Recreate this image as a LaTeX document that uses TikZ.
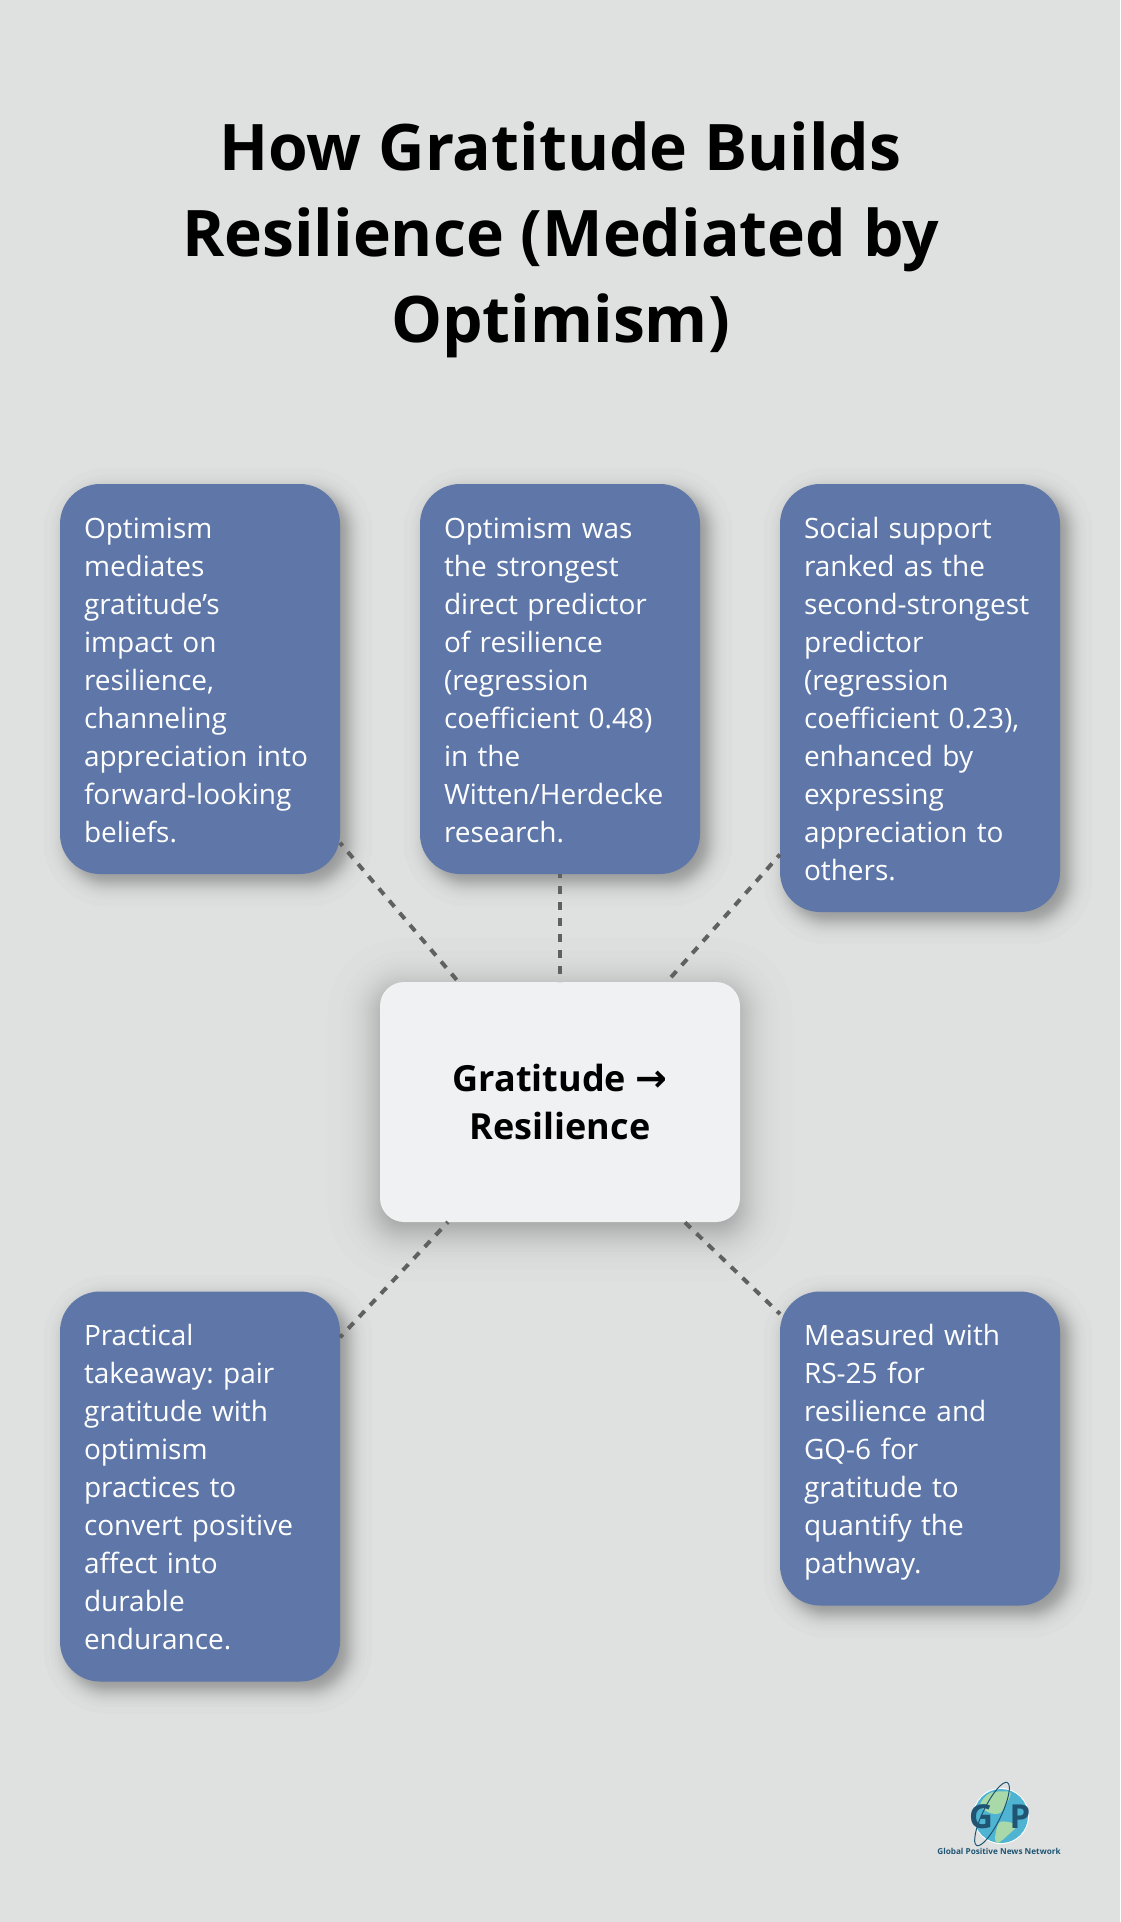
\documentclass[tikz,border=0pt]{standalone}
\usepackage{fontspec}
\setmainfont{Open Sans}
\newfontfamily\arrowfont{DejaVu Sans}
\usetikzlibrary{calc}
\definecolor{pagebg}{HTML}{DFE1E0}
\definecolor{cardblue}{HTML}{5E77A8}
\definecolor{hubgrey}{HTML}{EFF1F3}
\definecolor{linkgrey}{HTML}{606060}
\definecolor{logoink}{HTML}{1F5573}
\definecolor{logosea}{HTML}{4FB4D2}
\definecolor{logoland}{HTML}{A9D9A8}
\pgfdeclarelayer{pagelayer}
\pgfdeclarelayer{shadowlayer}
\pgfsetlayers{pagelayer,shadowlayer,main}
\tikzset{
    card/.style={rectangle, fill=cardblue, text=white, rounded corners=40pt, outer sep=0pt, inner sep=0pt,
        minimum width=280pt, text width=232pt, align=left,
        font=\fontsize{28}{38}\selectfont\frenchspacing,
        execute at begin node={\rule{0pt}{30pt}}, execute at end node={\rule[-8pt]{0pt}{8pt}}},
    hub/.style={rectangle, fill=hubgrey, rounded corners=24pt, outer sep=0pt, inner sep=0pt,
        minimum width=360pt, minimum height=240pt, align=center,
        font=\fontsize{36}{48}\selectfont\bfseries},
    link/.style={draw=linkgrey, line width=4pt, dash pattern=on 8pt off 8pt, dash phase=4pt},
}
% node, shift, spread, layers, opacity of one layer, corner radius
\newcommand{\softshadow}[6]{%
    \begin{pgfonlayer}{shadowlayer}
        \foreach \layer in {1,...,#4} {
            \pgfmathsetmacro{\share}{(\layer-0.5)/#4}
            \pgfmathsetmacro{\grow}{#3*ln(\share/(1-\share))}
            \pgfmathsetmacro{\arcsize}{max(4,#6+\grow)}
            \fill[black, fill opacity=#5, rounded corners=\arcsize pt]
                ($(#1.north west)+(-\grow,-\grow)+(#2)$) rectangle ($(#1.south east)+(\grow,\grow)+(#2)$);
        }
    \end{pgfonlayer}}
\begin{document}
\begin{tikzpicture}[x=1pt, y=-1pt]
    \begin{pgfonlayer}{pagelayer}
        \fill[pagebg] (0,0) rectangle (1120,1922);
    \end{pgfonlayer}
    \useasboundingbox (0,0) rectangle (1120,1922);

    \node (title) at (560.5,240) [align=center, font=\fontsize{64.2}{86}\selectfont\bfseries]
        {How Gratitude Builds\\Resilience (Mediated by\\Optimism)};

    \node[hub] (gratitude) at (560,1102) {Gratitude {\arrowfont\fontsize{38}{48}\selectfont →}\\Resilience};
    \node[card, minimum height=390pt] (mediates) at (200,679)
        {Optimism\\mediates\\gratitude’s\\impact on\\resilience,\\channeling\\appreciation into\\forward-looking\\beliefs.};
    \node[card, minimum height=390pt] (predictor) at (560,679)
        {Optimism was\\the strongest\\direct predictor\\of resilience\\(regression\\coefficient 0.48)\\in the\\Witten/Herdecke\\research.};
    \node[card, minimum height=428pt] (support) at (920,698)
        {Social support\\ranked as the\\second-strongest\\predictor\\(regression\\coefficient 0.23),\\enhanced by\\expressing\\appreciation to\\others.};
    \node[card, minimum height=390pt] (takeaway) at (200,1486.5)
        {Practical\\takeaway: pair\\gratitude with\\optimism\\practices to\\convert positive\\affect into\\durable\\endurance.};
    \node[card, minimum height=314pt] (measured) at (920,1448.5)
        {Measured with\\RS-25 for\\resilience and\\GQ-6 for\\gratitude to\\quantify the\\pathway.};

    % shadows
    \softshadow{gratitude}{0,8}{12}{40}{0.0065}{24}
    \foreach \cardname in {mediates,predictor,support,takeaway,measured} {
        \softshadow{\cardname}{8,8}{6}{30}{0.012}{40}
    }

    % spokes
    \draw[link] (mediates) -- (gratitude);
    \draw[link] (predictor) -- (gratitude);
    \draw[link] (support) -- (gratitude);
    \draw[link] (takeaway) -- (gratitude);
    \draw[link] (measured) -- (gratitude);

    % logo
    \fill[white] (1001,1816) circle (28);
    \fill[logosea] (1001,1816) circle (27);
    \begin{scope}
        \clip (1001,1816) circle (27);
        \fill[logoland] plot[smooth cycle] coordinates {(980,1805) (990,1793) (1010,1792) (1007,1803) (1000,1813) (990,1813)};
        \fill[logoland] plot[smooth cycle] coordinates {(1000,1822) (1017,1825) (1008,1835) (998,1843) (995,1838)};
    \end{scope}
    \draw[logoink, line width=1pt, rotate around={-26:(992,1814)}] (992,1814) ellipse (9 and 35);
    \node (logog) at (981,1817) [text=logoink, font=\fontsize{33}{33}\selectfont\bfseries] {G};
    \node (logop) at (1020,1817) [text=logoink, font=\fontsize{33}{33}\selectfont\bfseries] {P};
    \node (logoname) at (999,1851) [text=logoink, font=\fontsize{8.2}{10}\selectfont\bfseries] {Global Positive News Network};
\end{tikzpicture}
\end{document}
